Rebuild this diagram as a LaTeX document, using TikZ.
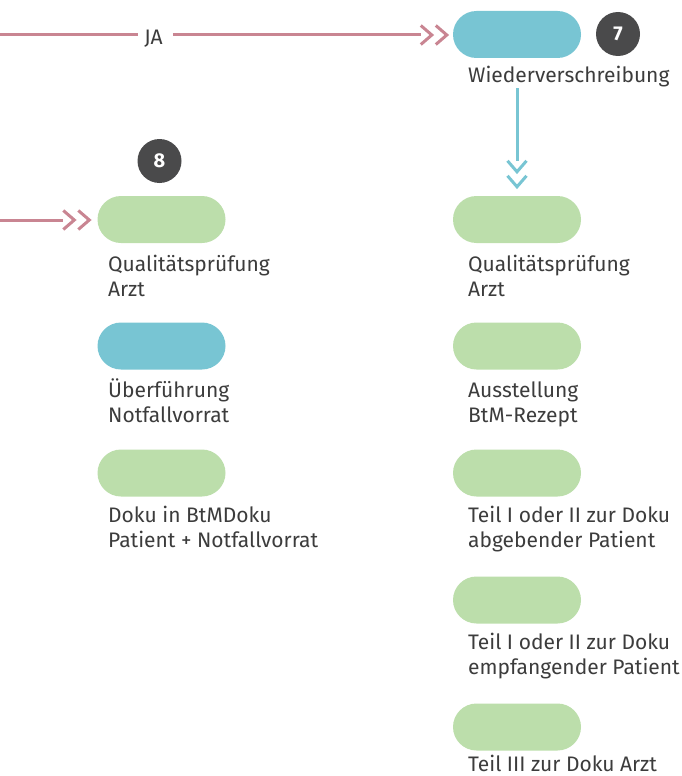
\documentclass[tikz,border=0pt]{standalone}
\usepackage{fontspec}
\setmainfont{Fira Sans}
\definecolor{pinkc}{HTML}{C98592}
\definecolor{bluec}{HTML}{78C5D3}
\definecolor{greenc}{HTML}{BCDEAB}
\definecolor{darkc}{HTML}{4A4A4B}
\definecolor{textc}{HTML}{3C3C3C}
\tikzset{
  pill/.style={rectangle, rounded corners=23.5pt, minimum width=128pt, minimum height=47pt, inner sep=0pt, draw=none},
  greenpill/.style={pill, fill=greenc},
  bluepill/.style={pill, fill=bluec},
  numcirc/.style={circle, fill=darkc, minimum size=44pt, inner sep=0pt, text=white, font=\fontsize{20}{20}\selectfont\bfseries},
  lbl/.style={anchor=base west, inner sep=0pt, text=textc, font=\fontsize{21}{25}\selectfont},
  pinkline/.style={draw=pinkc, line width=3pt},
  blueline/.style={draw=bluec, line width=3pt},
  chevpair/.pic={
    \draw[line width=3pt, miter limit=10] (-11,-9.5) -- (0,0) -- (-11,9.5);
    \draw[line width=3pt, miter limit=10] (-26,-9.5) -- (-15,0) -- (-26,9.5);
  }
}
\newcommand{\lbltext}[1]{\parbox[t]{8cm}{\raggedright #1}}
\begin{document}
\begin{tikzpicture}[x=1pt,y=-1pt]
\useasboundingbox (0,0) rectangle (682,776);
% right column
\node[bluepill] (wv) at (517,34.5) {};
\node[numcirc] (n7) at (618,34) {7};
\node[lbl] (wvl) at (468,82) {\lbltext{Wiederverschreibung}};
\node[greenpill] (r1) at (517,219.5) {};
\node[lbl] (r1l) at (468,271) {\lbltext{Qualitätsprüfung\\Arzt}};
\node[greenpill] (r2) at (517,346) {};
\node[lbl] (r2l) at (468,397) {\lbltext{Ausstellung\\BtM-Rezept}};
\node[greenpill] (r3) at (517,473) {};
\node[lbl] (r3l) at (468,522) {\lbltext{Teil I oder II zur Doku\\abgebender Patient}};
\node[greenpill] (r4) at (517,600) {};
\node[lbl] (r4l) at (468,649) {\lbltext{Teil I oder II zur Doku\\empfangender Patient}};
\node[greenpill] (r5) at (517,727) {};
\node[lbl] (r5l) at (468,771) {\lbltext{Teil III zur Doku Arzt}};
% left column
\node[numcirc] (n8) at (159.5,161) {8};
\node[greenpill] (l1) at (161.5,219.5) {};
\node[lbl] (l1l) at (108,271) {\lbltext{Qualitätsprüfung\\Arzt}};
\node[bluepill] (l2) at (161.5,346) {};
\node[lbl] (l2l) at (108,397) {\lbltext{Überführung\\Notfallvorrat}};
\node[greenpill] (l3) at (161.5,473) {};
\node[lbl] (l3l) at (108,522) {\lbltext{Doku in BtMDoku\\Patient + Notfallvorrat}};
% JA connector
\coordinate (jastart) at (0,35);
\node[inner sep=0pt, text=textc, font=\fontsize{21}{21}\selectfont, anchor=base] (ja) at (153.5,45) {JA};
\coordinate (wvtip) at ([xshift=-6pt]wv.west |- jastart);
\draw[pinkline] (jastart) -- ([xshift=-6pt]ja.west |- jastart);
\draw[pinkline] ([xshift=10pt]ja.east |- jastart) -- ([xshift=-26pt]wvtip);
\pic[draw=pinkc] at (wvtip) {chevpair};
% left arrow
\coordinate (lstart) at (0,220);
\coordinate (l1tip) at ([xshift=-8pt]l1.west |- lstart);
\draw[pinkline] (lstart) -- ([xshift=-26pt]l1tip);
\pic[draw=pinkc] at (l1tip) {chevpair};
% blue arrow
\coordinate (r1tip) at ([yshift=9pt]r1.north);
\draw[blueline] ([yshift=-30pt]wv.south) -- ([yshift=26pt]r1tip);
\pic[draw=bluec, rotate=-90] at (r1tip) {chevpair};
\end{tikzpicture}
\end{document}
